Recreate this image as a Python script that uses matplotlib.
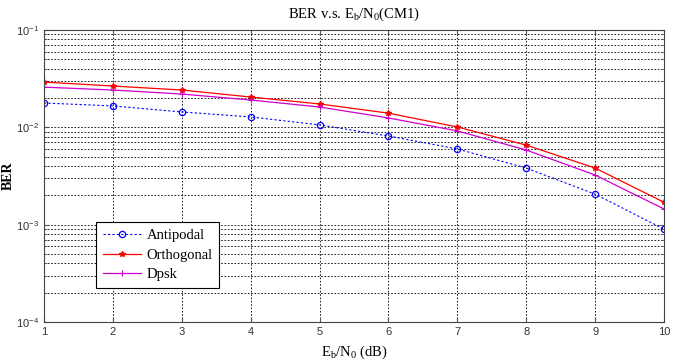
import numpy as np
import matplotlib
matplotlib.use('Agg')
import matplotlib.pyplot as plt
from matplotlib.ticker import LogLocator, NullFormatter

# Eb/N0 in dB
ebn0 = [1, 2, 3, 4, 5, 6, 7, 8, 9, 10]

ber_antipodal = [0.0178, 0.0166, 0.0144, 0.0128, 0.0106, 0.00815, 0.0060, 0.00382, 0.00206, 0.00090]
ber_orthogonal = [0.0292, 0.0266, 0.0242, 0.0205, 0.0174, 0.0140, 0.0101, 0.00657, 0.00382, 0.00170]
ber_dpsk = [0.0259, 0.0242, 0.0220, 0.0191, 0.0162, 0.0125, 0.0092, 0.00585, 0.00324, 0.00145]

labels = ['Antipodal', 'Orthogonal', 'Dpsk']

matplotlib.rcParams['mathtext.fontset'] = 'custom'
matplotlib.rcParams['mathtext.rm'] = 'Liberation Serif'
matplotlib.rcParams['mathtext.it'] = 'Liberation Serif:italic'
serif = 'Liberation Serif'
sans = 'Liberation Sans'

fig = plt.figure(figsize=(6.85, 3.62), dpi=100)
ax = fig.add_axes([0.0642, 0.1105, 0.9051, 0.8065])

ax.plot(ebn0, ber_antipodal, color='#0000ff', ls=(0, (2, 2)), lw=0.8, marker='o',
        ms=4.5, mfc='none', mec='#0000ff', mew=0.9, label=labels[0])
ax.plot(ebn0, ber_orthogonal, color='#ff0000', ls='-', lw=0.9, marker='*',
        ms=4, mec='#ff0000', label=labels[1])
ax.plot(ebn0, ber_dpsk, color='#cc00cc', ls='-', lw=0.9, marker='+',
        ms=4.5, mew=0.8, label=labels[2])

ax.set_yscale('log')
ax.set_xlim(1, 10)
ax.set_ylim(1e-4, 1e-1)
ax.set_xticks(range(1, 11))
ax.yaxis.set_major_locator(LogLocator(base=10, numticks=10))
ax.yaxis.set_minor_locator(LogLocator(base=10, subs=np.arange(2, 10), numticks=20))
ax.yaxis.set_minor_formatter(NullFormatter())

ax.grid(True, which='major', color='black', ls=(0, (2, 2)), lw=0.6)
ax.grid(True, which='minor', axis='y', color='black', ls=(0, (2, 2)), lw=0.6)

ax.tick_params(axis='both', which='both', direction='in', top=True, right=True,
               labelsize=8, labelcolor='#333333', color='#555555')
ax.tick_params(axis='both', which='minor', length=2)
for lab in ax.get_xticklabels() + ax.get_yticklabels():
  lab.set_family(sans)
for sp in ax.spines.values():
  sp.set_color('#444444')
  sp.set_linewidth(0.8)

ax.set_title(r'BER v.s. E$_\mathrm{b}$/N$_\mathrm{0}$(CM1)', fontsize=10.5, family=serif, pad=9)
ax.set_xlabel(r'E$_\mathrm{b}$/N$_\mathrm{0}$ (dB)', fontsize=10.5, family=serif, labelpad=5)
ax.set_ylabel('BER', fontsize=10, family=serif, fontweight='bold')
ax.yaxis.set_label_coords(-0.047, 0.5)

leg = ax.legend(loc='upper left', bbox_to_anchor=(0.084, 0.342), borderaxespad=0,
                fancybox=False, framealpha=1, edgecolor='black',
                prop={'family': serif, 'size': 10.5},
                handlelength=2.6, borderpad=0.45, labelspacing=0.45, handletextpad=0.4)
leg.get_frame().set_linewidth(0.8)

fig.savefig('out.png', dpi=100)
